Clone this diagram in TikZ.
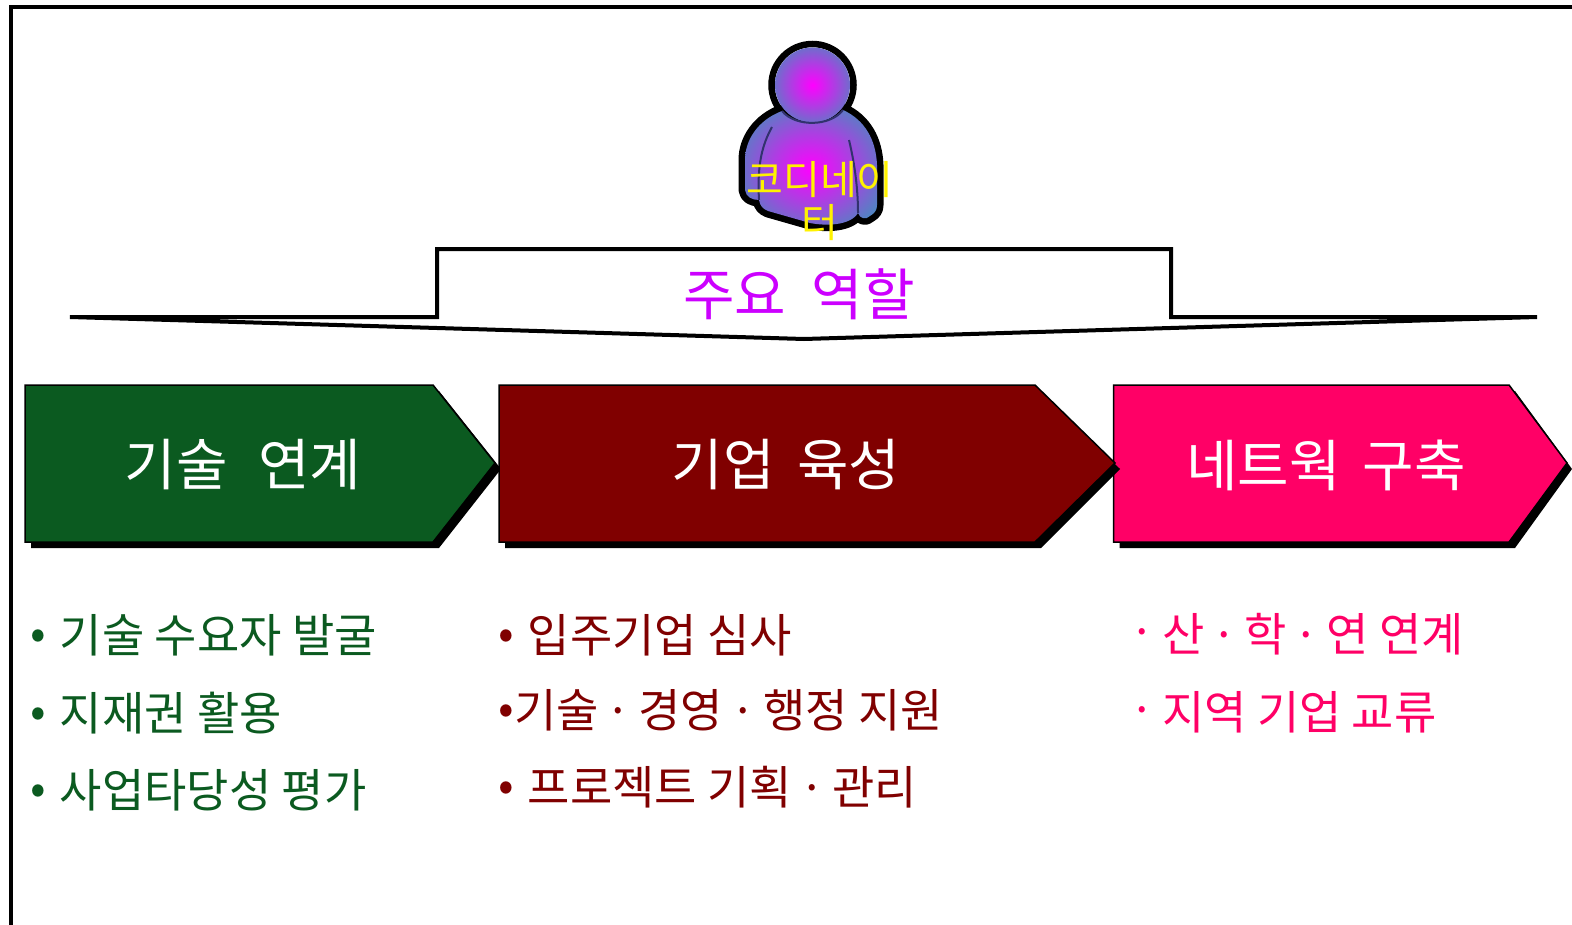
\documentclass[tikz,border=0pt]{standalone}
\usepackage{fontspec}
\setmainfont{Noto Sans CJK KR}
\definecolor{techgreen}{RGB}{11,90,32}
\definecolor{firmred}{RGB}{128,0,0}
\definecolor{netpink}{RGB}{255,0,102}
\definecolor{rolepurple}{RGB}{204,0,255}
\definecolor{personblue}{RGB}{70,140,190}
\definecolor{personline}{RGB}{50,50,110}
\pgfdeclareradialshading{personshade}{\pgfpointorigin}{color(0bp)=(magenta); color(15bp)=(magenta!55!personblue); color(32bp)=(personblue); color(50bp)=(personblue)}
\newcommand{\personbody}{(782,111) .. controls (758,120) and (745,140) .. (745,160) -- (745,190) .. controls (746,197) and (752,200) .. (759,200) .. controls (760,206) and (763,209) .. (768,211) -- (810,223) .. controls (825,226) and (850,226) .. (858,213) .. controls (860,219) and (866,220) .. (870,216) .. controls (875,213) and (877,210) .. (877,205) -- (877,165) .. controls (876,140) and (865,120) .. (843,110) .. controls (830,127) and (795,127) .. (782,111) -- cycle}
\newcommand{\middot}{\hspace{-0.07em}·\hspace{-0.07em}}
\tikzset{
    stepshape/.style={draw=black, line width=0.75pt, line join=miter},
    headlabel/.style={text=white, font=\fontsize{28}{34}\selectfont, inner sep=0pt},
    itemlabel/.style={anchor=west, font=\fontsize{23}{28}\selectfont, inner sep=0pt},
}

\begin{document}
\begin{tikzpicture}[x=0.5pt, y=-0.5pt]
    \useasboundingbox (0,0) rectangle (1572,925);
    \draw[line width=2pt] (11,925) -- (11,7) -- (1572,7);

    % person
    \draw[line width=6.5pt, line join=round] \personbody;
    \draw[line width=3.25pt] (812.5,85) circle (41);
    \path[shade, shading=personshade] \personbody;
    \path[shade, shading=personshade] (812.5,85) circle (37.5);
    \draw[personline, line width=1pt] (782,111) .. controls (795,127) and (830,127) .. (843,110);
    \draw[personline, line width=1pt] (772,127) .. controls (762,145) and (757,165) .. (759,200);
    \draw[personline, line width=1pt] (849,140) .. controls (855,165) and (858,190) .. (858,213);
    \node[text=yellow, font=\fontsize{20}{21.5}\selectfont, inner sep=0pt, align=center] (coordinator) at (820,201) {코디네이\\터};

    % banner
    \draw[fill=white, line width=2pt, miter limit=2] (70,317) -- (437,317) -- (437,249) -- (1171,249) -- (1171,317) -- (1537,317) -- (804,339) -- cycle;
    \node[text=rolepurple, font=\fontsize{28}{34}\selectfont, inner sep=0pt] (roles) at (799,294) {주요\hspace{0.45em}역할};

    % steps
    \fill[black] (31,391) -- (439,391) -- (501,469) -- (439,548) -- (31,548) -- cycle;
    \draw[stepshape, fill=techgreen] (25,385) -- (433,385) -- (495,463) -- (433,542) -- (25,542) -- cycle;
    \fill[black] (1119.5,391) -- (1515,391) -- (1572,469) -- (1515,548) -- (1119.5,548) -- cycle;
    \draw[stepshape, fill=netpink] (1113.5,385) -- (1509,385) -- (1567,463) -- (1509,542) -- (1113.5,542) -- cycle;
    \fill[black] (505,391) -- (1041,391) -- (1120,469) -- (1041,548) -- (505,548) -- cycle;
    \draw[stepshape, fill=firmred] (499,385) -- (1035,385) -- (1115,463) -- (1035,542) -- (499,542) -- cycle;

    \node[headlabel] (techlink) at (243,465) {기술\hspace{0.55em}연계};
    \node[headlabel] (firmgrow) at (786,465) {기업\hspace{0.4em}육성};
    \node[headlabel] (network) at (1326,465) {네트웍\hspace{0.4em}구축};

    % lists
    \node[itemlabel, text=techgreen] (techa) at (30,635) {\raisebox{0.06em}{•}\hspace{0.3em}기술 수요자 발굴};
    \node[itemlabel, text=techgreen] (techb) at (30,713) {\raisebox{0.06em}{•}\hspace{0.3em}지재권 활용};
    \node[itemlabel, text=techgreen] (techc) at (30,790) {\raisebox{0.06em}{•}\hspace{0.3em}사업타당성 평가};

    \node[itemlabel, text=firmred] (firma) at (498,635) {\raisebox{0.06em}{•}\hspace{0.3em}입주기업 심사};
    \node[itemlabel, text=firmred] (firmb) at (498,710) {\raisebox{0.06em}{•}기술 \middot{} 경영 \middot{} 행정 지원};
    \node[itemlabel, text=firmred] (firmc) at (498,787) {\raisebox{0.06em}{•}\hspace{0.3em}프로젝트 기획 \middot{} 관리};

    \node[itemlabel, text=netpink] (neta) at (1129,634) {\raisebox{0.06em}{·}\hspace{0.15em}산 \middot{} 학 \middot{} 연 연계};
    \node[itemlabel, text=netpink] (netb) at (1129,712) {\raisebox{0.06em}{·}\hspace{0.15em}지역 기업 교류};
\end{tikzpicture}
\end{document}
